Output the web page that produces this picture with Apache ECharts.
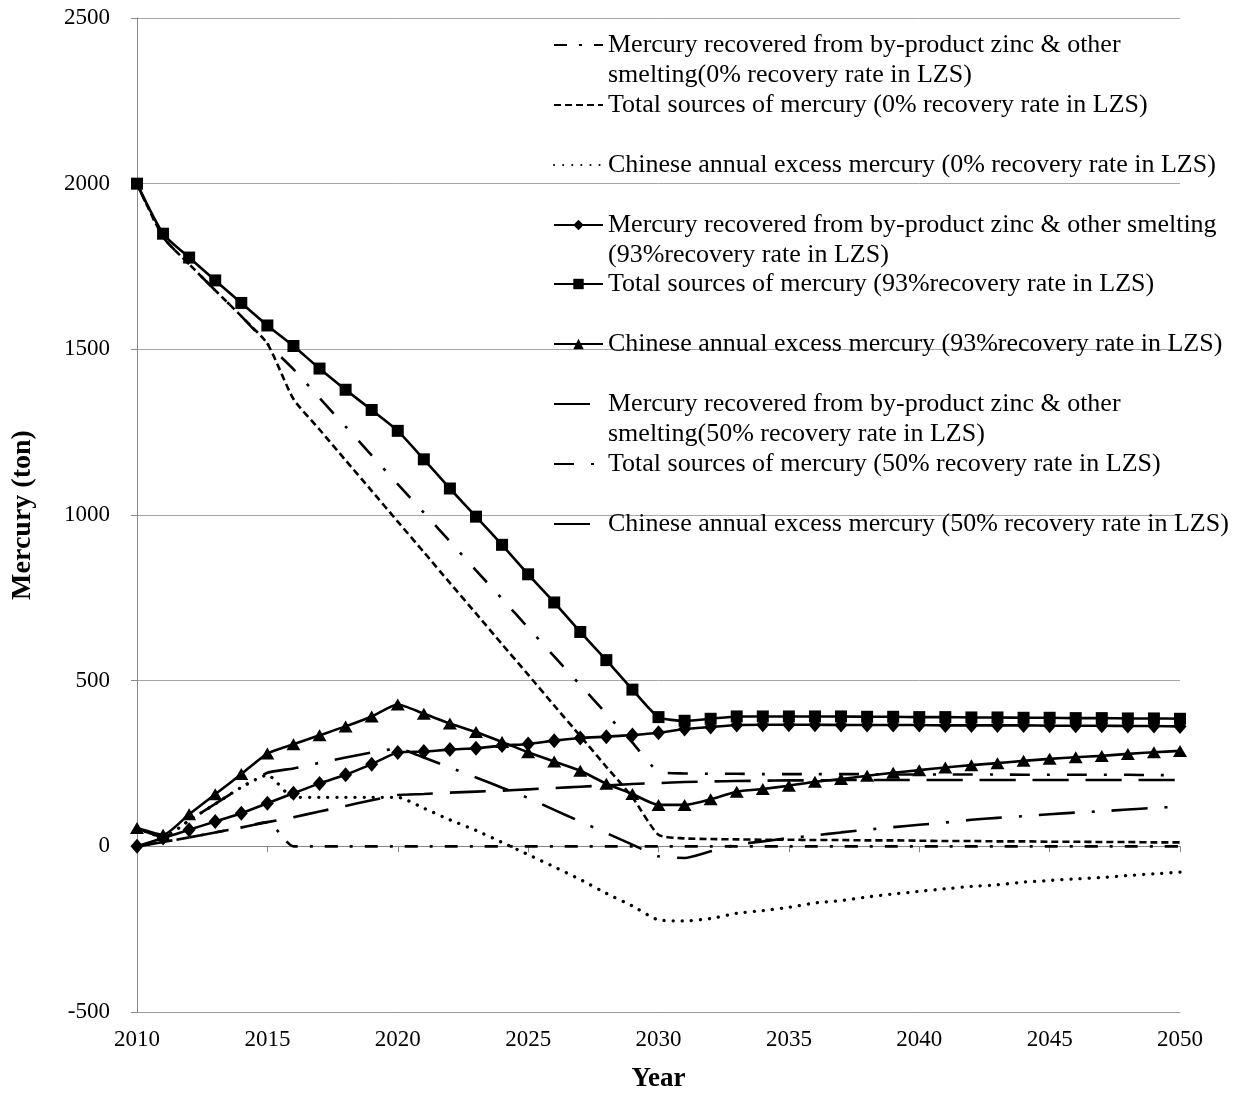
<!DOCTYPE html>
<html>
<head>
<meta charset="utf-8">
<title>Mercury sources</title>
<script src="https://cdn.jsdelivr.net/npm/echarts@6/dist/echarts.min.js"></script>
<style>
html, body { margin: 0; padding: 0; background: #fff; }
#chart { width: 1246px; height: 1094px; }
</style>
</head>
<body>
<div id="chart"></div>
<script>
// data
var years = ['2010','2011','2012','2013','2014','2015','2016','2017','2018','2019',
             '2020','2021','2022','2023','2024','2025','2026','2027','2028','2029',
             '2030','2031','2032','2033','2034','2035','2036','2037','2038','2039',
             '2040','2041','2042','2043','2044','2045','2046','2047','2048','2049','2050'];

var yTicks = [-500, 0, 500, 1000, 1500, 2000, 2500];

var recovered0 = [0, 13, 27, 42, 57, 73, 0, 0, 0, 0,
                  0, 0, 0, 0, 0, 0, 0, 0, 0, 0,
                  0, 0, 0, 0, 0, 0, 0, 0, 0, 0,
                  0, 0, 0, 0, 0, 0, 0, 0, 0, 0, 0];
var total0 = [2000, 1839, 1757, 1678, 1600, 1517, 1350, 1258, 1165, 1073,
              980, 888, 795, 703, 610, 518, 425, 333, 240, 148,
              35, 24, 22, 21, 20, 20, 19, 19, 18, 18,
              17, 16, 16, 15, 15, 14, 14, 13, 13, 12, 12];
var excess0 = [55, 28, 78, 128, 178, 215, 148, 148, 148, 148,
               148, 115, 80, 48, 12, -25, -62, -100, -142, -180,
               -222, -225, -218, -202, -194, -184, -171, -164, -153, -144,
               -136, -128, -121, -116, -108, -103, -98, -94, -88, -83, -78];

var recovered93 = [0, 25, 50, 75, 100, 130, 160, 190, 216, 248,
                   283, 286, 292, 296, 304, 309, 319, 327, 331, 336,
                   343, 354, 360, 366, 367, 367, 367, 366, 366, 366,
                   366, 365, 365, 365, 365, 364, 364, 364, 363, 363, 362];
var total93 = [2000, 1849, 1777, 1708, 1640, 1572, 1510, 1442, 1378, 1317,
               1254, 1168, 1080, 995, 910, 821, 736, 647, 562, 473,
               390, 379, 385, 392, 392, 392, 392, 392, 391, 391,
               390, 390, 389, 389, 388, 388, 387, 387, 386, 386, 385];
var excess93 = [55, 35, 97, 157, 218, 280, 308, 335, 362, 392,
                428, 400, 371, 345, 315, 284, 256, 228, 189, 158,
                125, 125, 142, 165, 173, 183, 195, 203, 213, 222,
                230, 238, 245, 251, 258, 264, 269, 273, 279, 284, 288];

var recovered50 = [0, 13, 27, 42, 57, 73, 88, 105, 122, 139,
                   155, 158, 162, 165, 168, 172, 176, 180, 184, 188,
                   191, 194, 196, 197, 198, 199, 199, 200, 200, 200,
                   200, 200, 200, 200, 200, 200, 200, 200, 200, 200, 200];
var total50 = [2000, 1839, 1757, 1678, 1600, 1517, 1440, 1353, 1267, 1180,
               1093, 1007, 920, 833, 747, 660, 573, 487, 400, 313,
               226, 220, 219, 219, 218, 218, 218, 218, 218, 217,
               217, 217, 217, 217, 216, 216, 216, 216, 216, 215, 215];
var excess50 = [55, 28, 78, 128, 178, 222, 235, 252, 268, 283,
                295, 268, 238, 208, 177, 146, 110, 75, 40, 5,
                -30, -35, -15, 5, 15, 25, 33, 42, 50, 58,
                65, 72, 80, 86, 91, 97, 102, 106, 111, 116, 120];

var seriesNames = [
    'Mercury recovered from by-product zinc & other smelting(0% recovery rate in LZS)',
    'Total sources of mercury (0% recovery rate in LZS)',
    'Chinese annual excess mercury (0% recovery rate in LZS)',
    'Mercury recovered from by-product zinc & other smelting (93%recovery rate in LZS)',
    'Total sources of mercury (93%recovery rate in LZS)',
    'Chinese annual excess mercury (93%recovery rate in LZS)',
    'Mercury recovered from by-product zinc & other smelting(50% recovery rate in LZS)',
    'Total sources of mercury (50% recovery rate in LZS)',
    'Chinese annual excess mercury (50% recovery rate in LZS)'
];
// how the legend wraps them (leading blank line keeps the icon on the first line)
var legendLabels = [
    '\nMercury recovered from by-product zinc & other\nsmelting(0% recovery rate in LZS)',
    'Total sources of mercury (0% recovery rate in LZS)',
    'Chinese annual excess mercury (0% recovery rate in LZS)',
    '\nMercury recovered from by-product zinc & other smelting\n(93%recovery rate in LZS)',
    'Total sources of mercury (93%recovery rate in LZS)',
    'Chinese annual excess mercury (93%recovery rate in LZS)',
    '\nMercury recovered from by-product zinc & other\nsmelting(50% recovery rate in LZS)',
    'Total sources of mercury (50% recovery rate in LZS)',
    'Chinese annual excess mercury (50% recovery rate in LZS)'
];
var hasMarker = [false, false, false, true, true, true, false, false, false];

var FONT = '"Liberation Serif", "Times New Roman", serif';
var legendCenters = [45, 105, 165, 225, 284, 344, 404, 464, 524];

var chart = echarts.init(document.getElementById('chart'));

function lineSeries(i, data, dash, extra) {
    var s = {
        name: seriesNames[i],
        type: 'line',
        data: data,
        smooth: 0.2,
        symbol: 'none',
        showSymbol: false,
        xAxisIndex: 0,
        yAxisIndex: 0,
        lineStyle: { color: '#000', width: 2.6, type: dash },
        itemStyle: { color: '#000' },
        z: 3
    };
    if (extra) {
        for (var k in extra) s[k] = extra[k];
    }
    return s;
}

function markerSeries(i, data, symbol, size) {
    return lineSeries(i, data, 'solid', {
        symbol: symbol,
        symbolSize: size,
        showSymbol: true,
        z: 5
    });
}

var legends = [];
for (var i = 0; i < seriesNames.length; i++) {
    var multi = legendLabels[i].indexOf('\n') === 0;
    var lg = {
        data: [seriesNames[i]],
        left: 553,
        top: legendCenters[i] - (multi ? 45 : 15),
        padding: 0,
        orient: 'vertical',
        itemWidth: 49,
        itemHeight: 13,
        selectedMode: false,
        formatter: (function (lbl) { return function () { return lbl; }; })(legendLabels[i]),
        textStyle: { fontFamily: FONT, fontSize: 26, color: '#000', lineHeight: 30 }
    };
    // plain line icon for series that have no markers
    if (!hasMarker[i]) lg.itemStyle = { opacity: 0 };
    legends.push(lg);
}

chart.setOption({
    backgroundColor: '#fff',
    animation: false,
    legend: legends,
    grid: { left: 137, right: 66, top: 18, bottom: 82, outerBoundsMode: 'none' },
    xAxis: [{
        type: 'category',
        data: years,
        boundaryGap: false,
        position: 'bottom',
        axisLine: { onZero: false, lineStyle: { color: '#999' } },
        axisTick: { show: false },
        axisLabel: { interval: 4, margin: 16, fontFamily: FONT, fontSize: 23, color: '#000' },
        splitLine: { show: false },
        name: 'Year',
        nameLocation: 'middle',
        nameGap: 54,
        nameTextStyle: { fontFamily: FONT, fontSize: 27, fontWeight: 'bold', color: '#000' }
    }, {
        type: 'category',
        data: years,
        boundaryGap: false,
        position: 'top',
        axisLine: { onZero: true, onZeroAxisIndex: 0, lineStyle: { color: '#888', width: 1 } },
        axisTick: { show: true, inside: true, interval: 4, length: 6, lineStyle: { color: '#888' } },
        axisLabel: { show: false },
        splitLine: { show: false }
    }],
    yAxis: {
        type: 'value',
        min: yTicks[0],
        max: yTicks[yTicks.length - 1],
        interval: 500,
        axisLine: { show: true, lineStyle: { color: '#888' } },
        axisTick: { show: true, length: 6, lineStyle: { color: '#888' } },
        splitLine: { lineStyle: { color: '#a6a6a6', width: 1 } },
        axisLabel: {
            margin: 27, fontFamily: FONT, fontSize: 23, color: '#000',
            formatter: function (v) { return String(v); }
        },
        name: 'Mercury (ton)',
        nameLocation: 'middle',
        nameGap: 100,
        nameRotate: 90,
        nameTextStyle: { fontFamily: FONT, fontSize: 28, fontWeight: 'bold', color: '#000' }
    },
    series: [
        lineSeries(0, recovered0, [13, 12, 3, 12]),
        lineSeries(1, total0, [7, 4]),
        lineSeries(2, excess0, [0.1, 9], { lineStyle: { color: '#000', width: 3.3, type: [0.1, 9], cap: 'round' } }),
        markerSeries(3, recovered93, 'diamond', [13, 15]),
        markerSeries(4, total93, 'rect', 12),
        markerSeries(5, excess93, 'triangle', [14, 12]),
        lineSeries(6, recovered50, [36, 17]),
        lineSeries(7, total50, [20, 17, 3, 17]),
        lineSeries(8, excess50, [36, 17, 3, 17])
    ]
});
</script>
</body>
</html>
